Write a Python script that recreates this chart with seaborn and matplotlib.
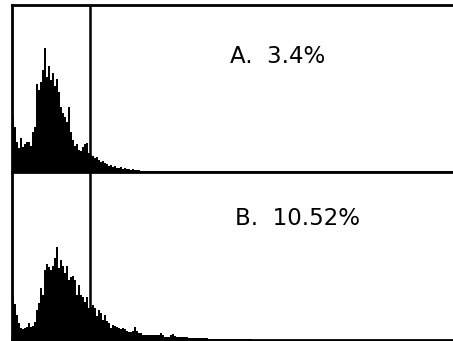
import numpy as np
import pandas as pd
import matplotlib
matplotlib.use("Agg")
import matplotlib.pyplot as plt
import seaborn as sns

# histogram counts per channel
counts_a = [55, 45, 30, 24, 34, 25, 28, 30, 30, 26, 40, 45, 88, 82, 90, 102, 124, 95, 106, 92,
            99, 86, 93, 80, 65, 59, 55, 50, 65, 40, 32, 26, 28, 22, 21, 25, 28, 29, 19, 17,
            16, 14, 15, 12, 10, 11, 9, 8, 6, 7, 5, 6, 4, 4, 5, 3, 4, 3, 3, 2,
            3, 2, 2, 2, 1, 1, 1, 1, 1, 1, 1, 1, 1, 1]
counts_b = [43, 36, 25, 17, 12, 11, 12, 13, 17, 13, 14, 18, 30, 37, 52, 45, 70, 76, 73, 70,
            74, 82, 93, 72, 80, 74, 67, 74, 60, 63, 64, 60, 45, 55, 45, 43, 38, 43, 32, 33,
            35, 32, 24, 30, 27, 20, 25, 19, 17, 12, 15, 14, 13, 12, 11, 12, 11, 9, 8, 8,
            9, 13, 9, 7, 7, 5, 5, 5, 5, 5, 5, 5, 5, 5, 7, 5, 3, 3, 3, 5,
            6, 4, 3, 3, 3, 3, 3, 3, 2, 2, 2, 2, 2, 2, 2, 2, 2, 2, 1, 1,
            1, 1, 1, 1, 1, 1, 1, 1, 1, 1, 1, 1, 1, 1, 1, 1, 1, 1, 1, 1]
labels = ["A.  3.4%", "B.  10.52%"]
gate = 38.75
n_channels = 220.5

fig = plt.figure(figsize=(4.53, 3.41), dpi=100)
ax_a = fig.add_axes([12 / 453, 1 - 172 / 341, 441 / 453, 167 / 341])
ax_b = fig.add_axes([12 / 453, 1 - 340 / 341, 441 / 453, 168 / 341])

for ax, counts, label, ymax, tx, ty in [(ax_a, counts_a, labels[0], 167, 0.494, 0.689),
                                         (ax_b, counts_b, labels[1], 168, 0.506, 0.726)]:
    df = pd.DataFrame({"channel": np.arange(len(counts)) + 0.5, "count": counts})
    sns.histplot(data=df, x="channel", weights="count", binwidth=1,
                 binrange=(0, len(counts)), element="step", fill=True,
                 color="black", alpha=1, linewidth=0, ax=ax)
    ax.axvline(gate, color="black", lw=1.8)
    ax.set_xlim(0, n_channels)
    ax.set_ylim(0, ymax)
    ax.set_xticks([])
    ax.set_yticks([])
    ax.set_xlabel("")
    ax.set_ylabel("")
    ax.spines["right"].set_visible(False)
    for s in ["left", "top", "bottom"]:
        ax.spines[s].set_linewidth(2)
    ax.text(tx, ty, label, transform=ax.transAxes,
            fontsize=16.5, va="center", ha="left", family="DejaVu Sans")

fig.savefig("out.png", dpi=100)
